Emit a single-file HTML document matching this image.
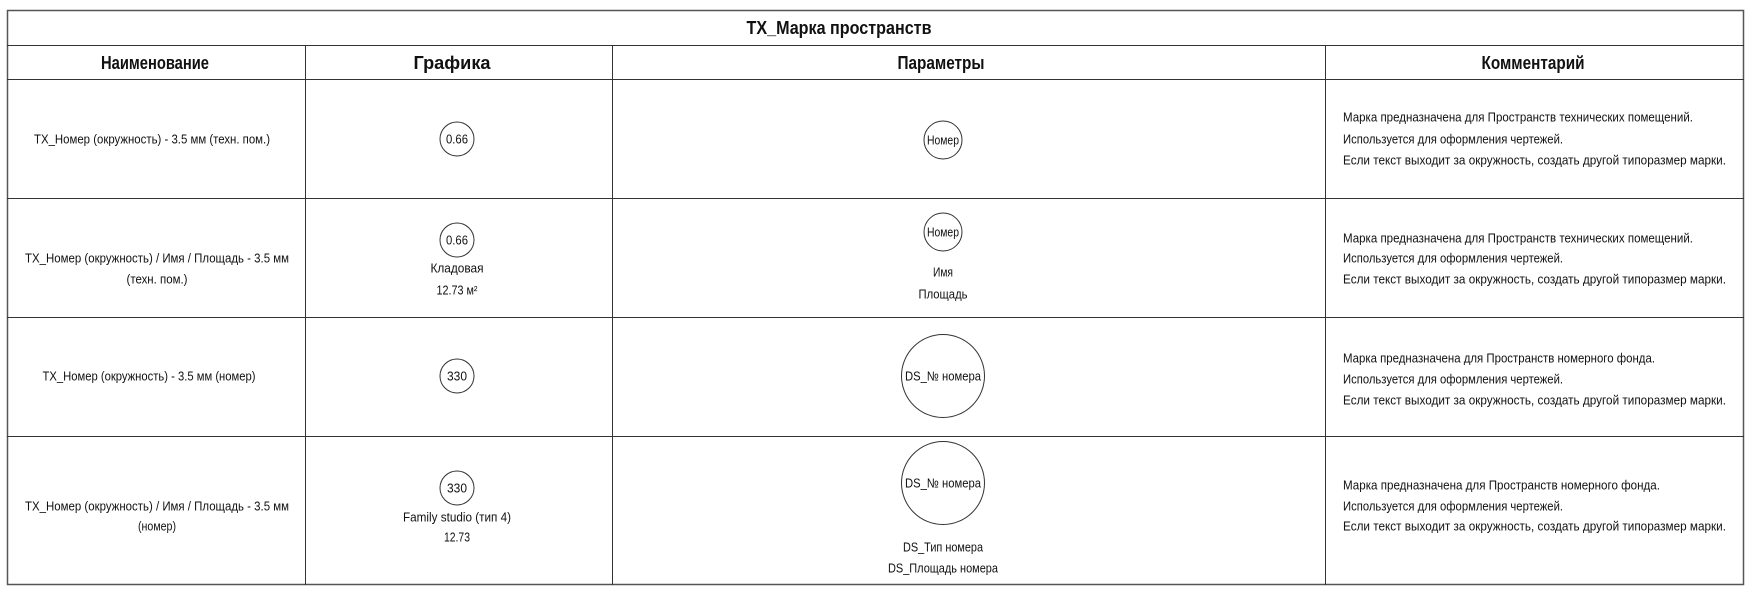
<!DOCTYPE html>
<html><head><meta charset="utf-8"><style>
html,body{margin:0;padding:0;background:#fff;width:1754px;height:602px;overflow:hidden}
svg text{font-family:"Liberation Sans",sans-serif;fill:#111;dominant-baseline:central}
.s{font-size:13px}.h{font-size:18px;font-weight:bold}.m{font-size:13px}
</style></head><body>
<svg width="1754" height="602" viewBox="0 0 1754 602" xmlns="http://www.w3.org/2000/svg">
<g stroke="#333" stroke-width="1" fill="none">
<rect x="7.5" y="10.5" width="1736" height="574" stroke="#555" stroke-width="1.5"/>
<line x1="7" y1="45.5" x2="1744" y2="45.5"/>
<line x1="7" y1="79.5" x2="1744" y2="79.5"/>
<line x1="7" y1="198.5" x2="1744" y2="198.5"/>
<line x1="7" y1="317.5" x2="1744" y2="317.5"/>
<line x1="7" y1="436.5" x2="1744" y2="436.5"/>
<line x1="305.5" y1="45" x2="305.5" y2="585"/>
<line x1="612.5" y1="45" x2="612.5" y2="585"/>
<line x1="1325.5" y1="45" x2="1325.5" y2="585"/>
<circle cx="457" cy="139" r="17"/>
<circle cx="457" cy="240" r="17"/>
<circle cx="457" cy="376" r="17"/>
<circle cx="457" cy="488" r="17"/>
<circle cx="943" cy="140" r="19"/>
<circle cx="943" cy="232" r="19"/>
<circle cx="943" cy="376" r="41.5"/>
<circle cx="943" cy="483" r="41.5"/>
</g>
<g text-anchor="middle">
<text class="h" x="839" y="28" textLength="185" lengthAdjust="spacingAndGlyphs">TX_Марка пространств</text>
<text class="h" x="155" y="63" textLength="108" lengthAdjust="spacingAndGlyphs">Наименование</text>
<text class="h" x="452" y="63" textLength="77" lengthAdjust="spacingAndGlyphs">Графика</text>
<text class="h" x="941" y="63" textLength="87" lengthAdjust="spacingAndGlyphs">Параметры</text>
<text class="h" x="1533" y="63" textLength="103" lengthAdjust="spacingAndGlyphs">Комментарий</text>

<text class="s" x="152" y="139" textLength="236" lengthAdjust="spacingAndGlyphs">TX_Номер (окружность) - 3.5 мм (техн. пом.)</text>
<text class="s" x="157" y="258" textLength="264" lengthAdjust="spacingAndGlyphs">TX_Номер (окружность) / Имя / Площадь - 3.5 мм</text>
<text class="s" x="157" y="279" textLength="61" lengthAdjust="spacingAndGlyphs">(техн. пом.)</text>
<text class="s" x="149" y="376" textLength="213" lengthAdjust="spacingAndGlyphs">TX_Номер (окружность) - 3.5 мм (номер)</text>
<text class="s" x="157" y="506" textLength="264" lengthAdjust="spacingAndGlyphs">TX_Номер (окружность) / Имя / Площадь - 3.5 мм</text>
<text class="s" x="157" y="526" textLength="38" lengthAdjust="spacingAndGlyphs">(номер)</text>

<text class="s" x="457" y="139" textLength="22" lengthAdjust="spacingAndGlyphs">0.66</text>
<text class="s" x="457" y="240" textLength="22" lengthAdjust="spacingAndGlyphs">0.66</text>
<text class="s" x="457" y="268" textLength="53" lengthAdjust="spacingAndGlyphs">Кладовая</text>
<text class="s" x="457" y="290" textLength="41" lengthAdjust="spacingAndGlyphs">12.73 м²</text>
<text class="s" x="457" y="376" textLength="20" lengthAdjust="spacingAndGlyphs">330</text>
<text class="s" x="457" y="488" textLength="20" lengthAdjust="spacingAndGlyphs">330</text>
<text class="s" x="457" y="517" textLength="108" lengthAdjust="spacingAndGlyphs">Family studio (тип 4)</text>
<text class="s" x="457" y="537" textLength="26" lengthAdjust="spacingAndGlyphs">12.73</text>

<text class="s" x="943" y="140" textLength="32" lengthAdjust="spacingAndGlyphs">Номер</text>
<text class="s" x="943" y="232" textLength="32" lengthAdjust="spacingAndGlyphs">Номер</text>
<text class="s" x="943" y="272" textLength="20" lengthAdjust="spacingAndGlyphs">Имя</text>
<text class="s" x="943" y="294" textLength="49" lengthAdjust="spacingAndGlyphs">Площадь</text>
<text class="s" x="943" y="376" textLength="76" lengthAdjust="spacingAndGlyphs">DS_№ номера</text>
<text class="s" x="943" y="483" textLength="76" lengthAdjust="spacingAndGlyphs">DS_№ номера</text>
<text class="s" x="943" y="547" textLength="80" lengthAdjust="spacingAndGlyphs">DS_Тип номера</text>
<text class="s" x="943" y="568" textLength="110" lengthAdjust="spacingAndGlyphs">DS_Площадь номера</text>
</g>
<g>
<text class="m" x="1343" y="117" textLength="350" lengthAdjust="spacingAndGlyphs">Марка предназначена для Пространств технических помещений.</text>
<text class="m" x="1343" y="139" textLength="220" lengthAdjust="spacingAndGlyphs">Используется для оформления чертежей.</text>
<text class="m" x="1343" y="160" textLength="383" lengthAdjust="spacingAndGlyphs">Если текст выходит за окружность, создать другой типоразмер марки.</text>
<text class="m" x="1343" y="238" textLength="350" lengthAdjust="spacingAndGlyphs">Марка предназначена для Пространств технических помещений.</text>
<text class="m" x="1343" y="258" textLength="220" lengthAdjust="spacingAndGlyphs">Используется для оформления чертежей.</text>
<text class="m" x="1343" y="279" textLength="383" lengthAdjust="spacingAndGlyphs">Если текст выходит за окружность, создать другой типоразмер марки.</text>
<text class="m" x="1343" y="358" textLength="312" lengthAdjust="spacingAndGlyphs">Марка предназначена для Пространств номерного фонда.</text>
<text class="m" x="1343" y="379" textLength="220" lengthAdjust="spacingAndGlyphs">Используется для оформления чертежей.</text>
<text class="m" x="1343" y="400" textLength="383" lengthAdjust="spacingAndGlyphs">Если текст выходит за окружность, создать другой типоразмер марки.</text>
<text class="m" x="1343" y="485" textLength="317" lengthAdjust="spacingAndGlyphs">Марка предназначена для Пространств  номерного фонда.</text>
<text class="m" x="1343" y="506" textLength="220" lengthAdjust="spacingAndGlyphs">Используется для оформления чертежей.</text>
<text class="m" x="1343" y="526" textLength="383" lengthAdjust="spacingAndGlyphs">Если текст выходит за окружность, создать другой типоразмер марки.</text>
</g>
</svg>
</body></html>
